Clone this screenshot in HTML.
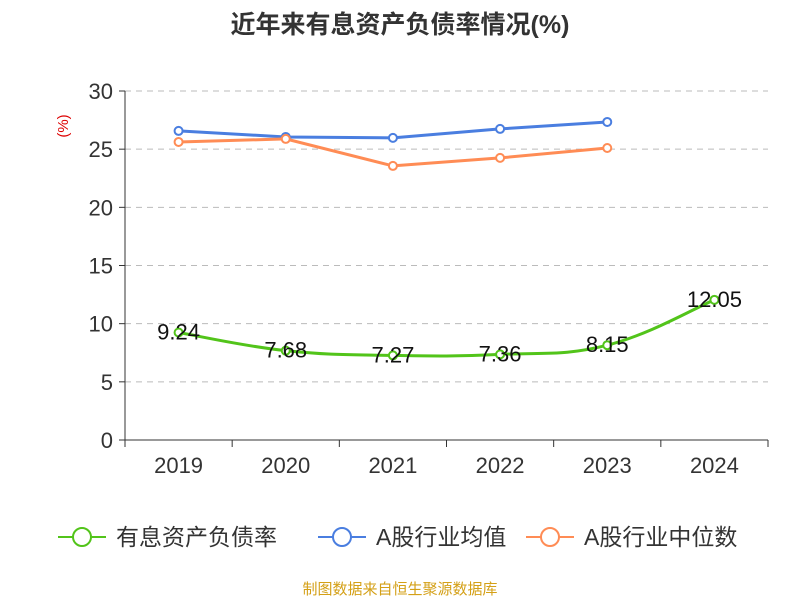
<!DOCTYPE html>
<html><head><meta charset="utf-8"><style>
body{margin:0;background:#fff;font-family:"Liberation Sans","Noto Sans CJK SC",sans-serif}
svg text{font-family:"Liberation Sans","Noto Sans CJK SC",sans-serif}
</style></head><body>
<svg id="c" width="800" height="600">
<text x="400" y="33" text-anchor="middle" font-size="25" font-weight="bold" fill="#333">近年来有息资产负债率情况(%)</text>
<text x="68" y="126" transform="rotate(-90 68 126)" text-anchor="middle" font-size="15" fill="#d00">(%)</text>
<g id="grid"></g><g id="axes"></g><g id="series"></g>
<g>
<g><line x1="58" y1="537" x2="106" y2="537" stroke="#52c41a" stroke-width="2"/><circle cx="82" cy="537" r="9" fill="#fff" stroke="#52c41a" stroke-width="2"/><text x="116" y="545" font-size="23" fill="#333">有息资产负债率</text></g>
<g><line x1="318" y1="537" x2="366" y2="537" stroke="#4a7ee0" stroke-width="2"/><circle cx="342" cy="537" r="9" fill="#fff" stroke="#4a7ee0" stroke-width="2"/><text x="376" y="545" font-size="23" fill="#333">A股行业均值</text></g>
<g><line x1="526" y1="537" x2="574" y2="537" stroke="#ff8c55" stroke-width="2"/><circle cx="550" cy="537" r="9" fill="#fff" stroke="#ff8c55" stroke-width="2"/><text x="584" y="545" font-size="23" fill="#333">A股行业中位数</text></g>
</g>
<text x="400" y="594" text-anchor="middle" font-size="15" fill="#d4a017">制图数据来自恒生聚源数据库</text>
</svg>
<script>
const categories=["2019","2020","2021","2022","2023","2024"];
const debtRatio=[9.24,7.68,7.27,7.36,8.15,12.05];
const industryAvg=[26.57,26.05,25.97,26.74,27.34,null];
const industryMedian=[25.62,25.88,23.56,24.25,25.1,null];
const yTicks=[0,5,10,15,20,25,30];
const NS="http://www.w3.org/2000/svg";
const X0=125,X1=768,Y0=440,Y1=91,YMAX=30;
const bw=(X1-X0)/categories.length;
const xs=i=>X0+bw*(i+0.5);
const ys=v=>Y0-(v/YMAX)*(Y0-Y1);
function mk(t,a,p){const e=document.createElementNS(NS,t);for(const k in a)e.setAttribute(k,a[k]);p.appendChild(e);return e;}
const grid=document.getElementById('grid'),axes=document.getElementById('axes'),ser=document.getElementById('series');
yTicks.forEach(v=>{
 if(v>0){const l=mk('line',{x1:X0,x2:X1,y1:ys(v),y2:ys(v),stroke:'#bbb','stroke-dasharray':'6,5'},grid);
 
 }
 const tk=mk('line',{x1:X0-6,x2:X0,y1:ys(v),y2:ys(v),stroke:'#333'},axes);
 
 
 const t=mk('text',{x:X0-12,y:ys(v)+8,'text-anchor':'end','font-size':22,fill:'#333'},axes);t.textContent=v;
 
 
});
const ya=mk('line',{x1:X0,x2:X0,y1:Y1,y2:Y0,stroke:'#333'},axes);


const xa=mk('line',{x1:X0,x2:X1,y1:Y0,y2:Y0,stroke:'#333'},axes);


for(let i=0;i<=categories.length;i++){const tk=mk('line',{x1:X0+bw*i,x2:X0+bw*i,y1:Y0,y2:Y0+7,stroke:'#333'},axes);
 
 }
categories.forEach((c,i)=>{const t=mk('text',{x:xs(i),y:Y0+33,'text-anchor':'middle','font-size':22,fill:'#333'},axes);t.textContent=c;
 
 });
function path(vals,smooth){
 const p=vals.map((v,i)=>v==null?null:[xs(i),ys(v)]).filter(Boolean);
 let d='M'+p[0][0]+','+p[0][1];
 for(let i=1;i<p.length;i++){
  if(!smooth){d+='L'+p[i][0]+','+p[i][1];continue;}
  const a=p[Math.max(i-2,0)],b=p[i-1],c=p[i],e=p[Math.min(i+1,p.length-1)],k=0.2;
  d+='C'+(b[0]+(c[0]-a[0])*k)+','+(b[1]+(c[1]-a[1])*k)+' '+(c[0]-(e[0]-b[0])*k)+','+(c[1]-(e[1]-b[1])*k)+' '+c[0]+','+c[1];
 }return d;}
function series(vals,color,name,smooth,labels){
 const g=mk('g',{},ser);
 
 
 mk('path',{d:path(vals,smooth),fill:'none',stroke:color,'stroke-width':3},g);
 vals.forEach((v,i)=>{if(v==null)return;
  const c=mk('circle',{cx:xs(i),cy:ys(v),r:4,fill:'#fff',stroke:color,'stroke-width':2},g);
  
  
  if(labels){const t=mk('text',{x:xs(i),y:ys(v)+7,'text-anchor':'middle','font-size':22,fill:'#111'},g);t.textContent=v.toFixed(2);
   
   }
 });}
series(industryAvg,'#4a7ee0','industry-avg-line',false,false);
series(industryMedian,'#ff8c55','industry-median-line',false,false);
series(debtRatio,'#52c41a','debt-ratio-line',true,true);
</script>
</body></html>
